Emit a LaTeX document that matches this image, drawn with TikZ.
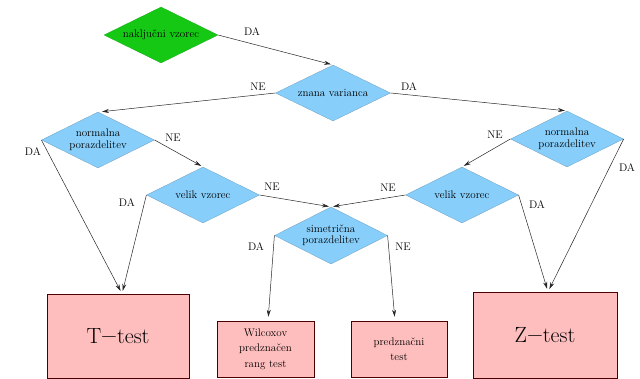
\documentclass[tikz,border=0pt]{standalone}
\usepackage{fontspec}
\usetikzlibrary{shapes.geometric,arrows.meta}
\definecolor{dgreen}{RGB}{20,200,20}
\definecolor{ltblue}{RGB}{135,206,250}
\definecolor{ltpink}{RGB}{255,190,190}
\begin{document}
\begin{tikzpicture}[x=1pt,y=-1pt,
  dec/.style={diamond,aspect=2.2,fill=ltblue,draw=ltblue!70!black,line width=0.2pt,inner sep=0pt,
     minimum width=113pt,minimum height=56pt,align=center,
     font=\rmfamily\fontsize{11}{11.5}\selectfont},
  bigbox/.style={rectangle,fill=ltpink,draw=black!70!red,line width=0.5pt,inner sep=0pt,
     font=\rmfamily\fontsize{22}{26}\selectfont},
  smallbox/.style={rectangle,fill=ltpink,draw=black!70!red,line width=0.5pt,inner sep=0pt,
     align=center,font=\rmfamily\fontsize{11}{15.5}\selectfont},
  conn/.style={draw=black!85,line width=0.5pt,-{Stealth[length=7pt,width=4pt]},shorten >=2pt},
  lab/.style={font=\rmfamily\fontsize{11}{12}\selectfont,inner sep=0pt}]
\useasboundingbox (0,0) rectangle (640,379);
% decisions
\node[dec,fill=dgreen,draw=dgreen!80!black,minimum width=114pt] (rand) at (161,35) {naključni vzorec};
\node[dec,minimum width=115pt] (var) at (333,93) {znana varianca};
\node[dec] (normL) at (98,140) {normalna\\porazdelitev};
\node[dec] (velL) at (203,195) {velik vzorec};
\node[dec,minimum height=57pt] (sim) at (331,235.5) {simetrična\\porazdelitev};
\node[dec] (velR) at (462,195) {velik vzorec};
\node[dec] (normR) at (567,139) {normalna\\porazdelitev};
% results
\node[bigbox,minimum width=142pt,minimum height=84pt] (T) at (118,336) {T\raisebox{0.05em}{−}test};
\node[bigbox,minimum width=144pt,minimum height=86pt] (Z) at (545,335) {Z\raisebox{0.05em}{−}test};
\node[smallbox,minimum width=97pt,minimum height=56pt] (W) at (265.5,349) {Wilcoxov\\predznačen\\rang test};
\node[smallbox,minimum width=96pt,minimum height=56pt] (P) at (399,349) {predznačni\\test};
% connectors
\draw[conn] (rand.east) -- (var.north);
\draw[conn] (var.west) -- ([xshift=2pt]normL.north);
\draw[conn] (var.east) -- (normR.north);
\draw[conn] (normL.east) -- (velL.north);
\draw[conn,shorten >=3pt] (normL.west) -- ([xshift=4pt]T.north);
\draw[conn,shorten >=3pt] (velL.west) -- ([xshift=4pt]T.north);
\draw[conn] (velL.east) -- (sim.north);
\draw[conn] (velR.west) -- (sim.north);
\draw[conn] (normR.west) -- (velR.north);
\draw[conn,shorten >=3pt] (normR.east) -- ([xshift=3pt]Z.north);
\draw[conn,shorten >=3pt] (velR.east) -- ([xshift=3pt]Z.north);
\draw[conn,shorten >=4pt] (sim.west) -- ([xshift=2.5pt]W.north);
\draw[conn,shorten >=4pt] (sim.east) -- ([xshift=-4pt]P.north);
% labels
\node[lab] (l1) at (252,32) {DA};
\node[lab] (l2) at (258,87) {NE};
\node[lab] (l3) at (409,87) {DA};
\node[lab] (l4) at (173,138) {NE};
\node[lab] (l5) at (33,152) {DA};
\node[lab] (l6) at (127,203) {DA};
\node[lab] (l7) at (272,187) {NE};
\node[lab] (l8) at (388,188) {NE};
\node[lab] (l9) at (495,135) {NE};
\node[lab] (l10) at (627,168) {DA};
\node[lab] (l11) at (537,205) {DA};
\node[lab] (l12) at (256,247) {DA};
\node[lab] (l13) at (403,247) {NE};
\end{tikzpicture}
\end{document}
